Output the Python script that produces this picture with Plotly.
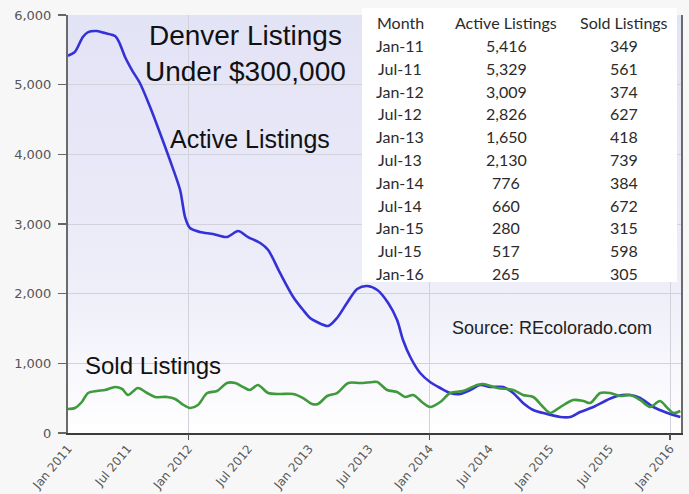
import base64
import plotly.graph_objects as go

# ---------------- data ----------------
active_dates = [
    "2011-01-01", "2011-01-22", "2011-02-15", "2011-03-03", "2011-03-30", "2011-04-23",
    "2011-05-24", "2011-06-05", "2011-06-23", "2011-07-14", "2011-08-07", "2011-09-07",
    "2011-10-07", "2011-11-06", "2011-12-07", "2011-12-22", "2012-01-06", "2012-02-05",
    "2012-03-16", "2012-04-27", "2012-05-31", "2012-06-30", "2012-08-06", "2012-08-30",
    "2012-10-05", "2012-11-14", "2012-12-14", "2013-01-04", "2013-01-25", "2013-02-28",
    "2013-03-27", "2013-04-26", "2013-05-27", "2013-06-26", "2013-07-27", "2013-08-29",
    "2013-09-25", "2013-10-13", "2013-11-04", "2013-12-04", "2014-01-03", "2014-02-03",
    "2014-03-05", "2014-04-04", "2014-05-05", "2014-06-04", "2014-07-04", "2014-08-13",
    "2014-09-12", "2014-10-12", "2014-11-12", "2014-12-24", "2015-02-02", "2015-03-04",
    "2015-04-03", "2015-05-13", "2015-06-24", "2015-07-25", "2015-09-02", "2015-10-02",
    "2015-11-11", "2015-12-24", "2016-02-01",
]
active_values = [
    5416, 5470, 5684, 5755, 5770, 5741,
    5698, 5612, 5397, 5210, 5024, 4679,
    4306, 3918, 3488, 3100, 2942, 2885,
    2856, 2813, 2899, 2813, 2727, 2627,
    2297, 1952, 1765, 1651, 1593, 1536,
    1651, 1866, 2067, 2110, 2053, 1866,
    1622, 1335, 1091, 861, 732, 646,
    574, 560, 617, 689, 660, 660,
    574, 431, 330, 273, 230, 230,
    301, 373, 474, 531, 545, 502,
    373, 287, 230,
]

sold_dates = [
    "2011-01-01", "2011-01-22", "2011-02-12", "2011-03-03", "2011-03-30", "2011-04-23",
    "2011-05-24", "2011-06-14", "2011-07-02", "2011-08-01", "2011-08-29", "2011-09-22",
    "2011-10-28", "2011-11-22", "2011-12-13", "2012-01-06", "2012-01-30", "2012-02-27",
    "2012-03-28", "2012-04-27", "2012-05-22", "2012-06-15", "2012-07-06", "2012-07-30",
    "2012-08-30", "2012-10-05", "2012-11-14", "2012-12-14", "2013-01-10", "2013-01-28",
    "2013-02-25", "2013-03-27", "2013-04-30", "2013-06-05", "2013-07-14", "2013-07-27",
    "2013-08-26", "2013-09-25", "2013-10-19", "2013-11-13", "2013-12-13", "2014-01-03",
    "2014-02-03", "2014-03-05", "2014-04-13", "2014-05-26", "2014-06-13", "2014-07-26",
    "2014-09-12", "2014-10-12", "2014-11-12", "2014-12-09", "2015-01-02", "2015-02-02",
    "2015-03-13", "2015-04-13", "2015-05-04", "2015-06-03", "2015-07-03", "2015-08-03",
    "2015-09-02", "2015-10-02", "2015-11-01", "2015-12-01", "2015-12-24", "2016-01-11",
    "2016-02-01",
]
sold_values = [
    344, 359, 445, 574, 603, 617,
    660, 632, 545, 646, 574, 517,
    517, 488, 416, 359, 402, 574,
    603, 718, 718, 660, 617, 689,
    574, 560, 560, 502, 416, 416,
    531, 574, 718, 718, 732, 732,
    617, 589, 517, 545, 431, 373,
    445, 574, 603, 689, 703, 646,
    617, 545, 517, 388, 287, 373,
    474, 459, 431, 574, 574, 531,
    545, 474, 373, 459, 359, 287,
    316,
]

table_months = ["Jan-11", "Jul-11", "Jan-12", "Jul-12", "Jan-13", "Jul-13",
                "Jan-14", "Jul-14", "Jan-15", "Jul-15", "Jan-16"]
table_active = [5416, 5329, 3009, 2826, 1650, 2130, 776, 660, 280, 517, 265]
table_sold = [349, 561, 374, 627, 418, 739, 384, 672, 315, 598, 305]

x_tick_dates = ["2011-01-01", "2011-07-01", "2012-01-01", "2012-07-01", "2013-01-01",
                "2013-07-01", "2014-01-01", "2014-07-01", "2015-01-01", "2015-07-01",
                "2016-01-01"]
y_ticks = [0, 1000, 2000, 3000, 4000, 5000, 6000]

X_RANGE = ["2011-01-01", "2016-02-03"]

# ---------------- geometry helpers (pixel -> paper) ----------------
W, H = 689, 494
L, R, T, B = 68, 8, 15, 61
PW, PH = W - L - R, H - T - B


def px(x):
    return (x - L) / PW


def py(y):
    return (H - B - y) / PH


fig = go.Figure()

fig.add_trace(go.Scatter(
    x=active_dates, y=active_values, mode="lines", name="Active Listings",
    line=dict(color="#3431d6", width=2.6, shape="spline", smoothing=0.8),
    hoverinfo="skip", showlegend=False))
fig.add_trace(go.Scatter(
    x=sold_dates, y=sold_values, mode="lines", name="Sold Listings",
    line=dict(color="#3f9a3c", width=2.6, shape="spline", smoothing=0.8),
    hoverinfo="skip", showlegend=False, xaxis="x2"))

# gradient plot background
svg = ('<svg xmlns="http://www.w3.org/2000/svg" width="10" height="100" '
       'preserveAspectRatio="none" viewBox="0 0 10 100">'
       '<defs><linearGradient id="g" x1="0" y1="0" x2="0" y2="1">'
       '<stop offset="0" stop-color="#e3e3f6"/>'
       '<stop offset="0.45" stop-color="#e9e9f8"/>'
       '<stop offset="0.7" stop-color="#f0f0fa"/>'
       '<stop offset="1" stop-color="#ffffff"/>'
       '</linearGradient></defs><rect width="10" height="100" fill="url(#g)"/></svg>')
src = "data:image/svg+xml;base64," + base64.b64encode(svg.encode()).decode()

fig.update_layout(
    width=W, height=H, autosize=False,
    margin=dict(l=L, r=R, t=T, b=B, pad=0),
    paper_bgcolor="#f7f7f7", plot_bgcolor="#ffffff",
    images=[dict(source=src, xref="paper", yref="paper", x=0, y=1, sizex=1, sizey=1,
                 xanchor="left", yanchor="top", sizing="stretch", layer="below")],
    xaxis=dict(type="date", range=X_RANGE, tickmode="array", tickvals=x_tick_dates,
               tickformat="%b %Y", tickangle=-50, ticks="", showgrid=False,
               showline=True, linecolor="#3c3c3c", linewidth=2, zeroline=False,
               automargin=False, ticklabelstandoff=2,
               tickfont=dict(family="DejaVu Sans", size=12, color="#5a5a5a")),
    xaxis2=dict(type="date", range=X_RANGE, overlaying="x", anchor="y", side="bottom",
                tick0="2012-01-01", dtick="M24", showticklabels=False, ticks="outside",
                ticklen=6, tickwidth=1.5, tickcolor="#555555", showgrid=True,
                gridcolor="#d2d2da", gridwidth=1, showline=False, zeroline=False),
    yaxis=dict(range=[0, 6000], tickmode="array", tickvals=y_ticks, tickformat=",",
               showgrid=True, gridcolor="#d2d2da", gridwidth=1, ticks="outside",
               ticklen=8, tickwidth=1.5, tickcolor="#666666", showline=True,
               linecolor="#6a6a6a", linewidth=2, mirror=True, zeroline=False,
               ticklabelstandoff=4, automargin=False,
               tickfont=dict(family="DejaVu Sans", size=13, color="#555555")),
)

shapes = [dict(type="rect", xref="paper", yref="paper",
               x0=px(362), x1=px(677), y0=py(282), y1=py(8),
               fillcolor="#ffffff", line=dict(width=0), layer="above")]
fig.update_layout(shapes=shapes)

ann = []
ann.append(dict(text="Denver Listings<br>Under $300,000", x=px(245), y=py(53),
                font=dict(family="Liberation Sans, Arial", size=28, color="#111111")))
ann.append(dict(text="Active Listings", x=px(250), y=py(139),
                font=dict(family="Liberation Sans, Arial", size=25, color="#111111")))
ann.append(dict(text="Sold Listings", x=px(153), y=py(365),
                font=dict(family="Liberation Sans, Arial", size=24, color="#111111")))
ann.append(dict(text="Source: REcolorado.com", x=px(552), y=py(328),
                font=dict(family="Liberation Sans, Arial", size=18, color="#222222")))

tfont = dict(family="Lato, Open Sans, sans-serif", size=16, color="#2b2b2b")
col_x = [px(400), px(506), px(624)]
headers = ["Month", "Active Listings", "Sold Listings"]
for cx, h in zip(col_x, headers):
    ann.append(dict(text=h, x=cx, y=py(23), font=tfont))
for i, (m, a, s) in enumerate(zip(table_months, table_active, table_sold)):
    yy = py(45.5 + 22.8 * i)
    ann.append(dict(text=m, x=col_x[0], y=yy, font=tfont))
    ann.append(dict(text=f"{a:,}", x=col_x[1], y=yy, font=tfont))
    ann.append(dict(text=f"{s:,}", x=col_x[2], y=yy, font=tfont))

for a in ann:
    a.update(xref="paper", yref="paper", showarrow=False, xanchor="center", yanchor="middle")
fig.update_layout(annotations=ann)

fig.write_html("out.html", config={"displayModeBar": False, "staticPlot": True},
               post_script="document.body.style.margin='0';")
